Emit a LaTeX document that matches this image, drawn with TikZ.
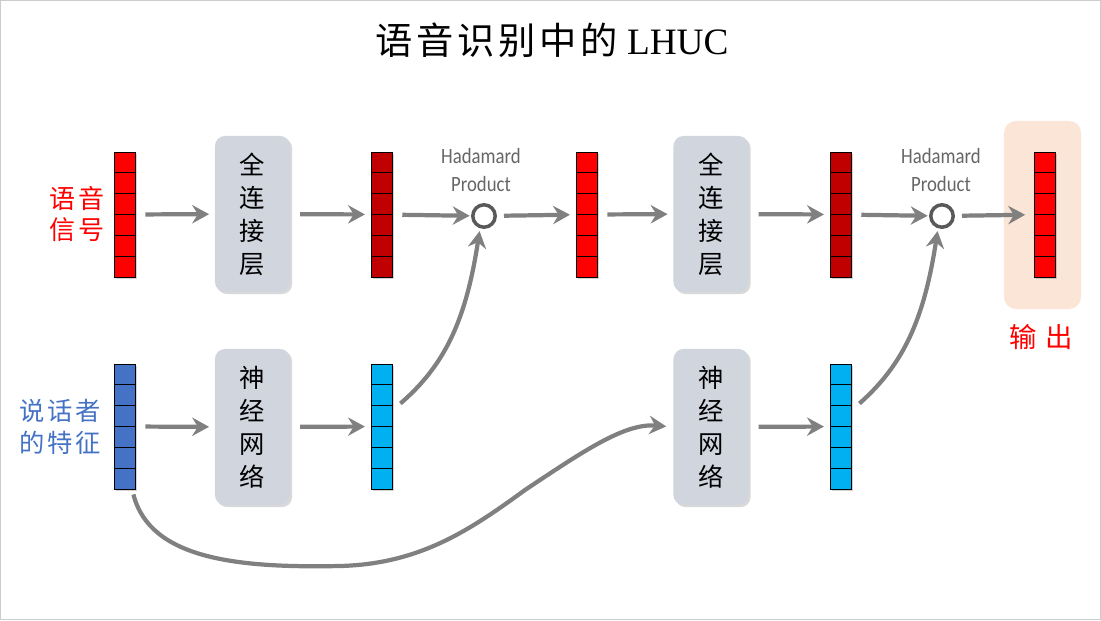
\documentclass[tikz,border=0pt]{standalone}
\usepackage{fontspec}
\setmainfont{Liberation Serif}
\newfontfamily\cjk{Noto Sans CJK SC}
\newfontfamily\cjksp[LetterSpace=10]{Noto Sans CJK SC}
\newfontfamily\labfont[FakeStretch=0.86]{Carlito}
\usepackage{xcolor}
\usepackage{tikz}
\usetikzlibrary{arrows.meta, calc, shadows}

\definecolor{vred}{HTML}{FF0000}
\definecolor{vdark}{HTML}{C00000}
\definecolor{vblue}{HTML}{4472C4}
\definecolor{vcyan}{HTML}{00B0F0}
\definecolor{boxgray}{HTML}{D0D5DE}
\definecolor{outpeach}{HTML}{FBE5D6}
\definecolor{arrowgray}{HTML}{808080}
\definecolor{ringgray}{HTML}{595959}

\begin{document}
\begin{tikzpicture}[x=0.025cm, y=-0.025cm,
                vec/.style={rectangle, draw=black, line width=0.6pt, inner sep=0pt, minimum width=0.525cm, minimum height=3.125cm,
                            drop shadow={shadow xshift=1.5pt, shadow yshift=-1.5pt, opacity=0.35},
                            path picture={\foreach \k in {1,...,5}
                                \draw[black, line width=0.6pt] ($(path picture bounding box.south west)!\k/6!(path picture bounding box.north west)$) -- ($(path picture bounding box.south east)!\k/6!(path picture bounding box.north east)$);}},
                box/.style={rectangle, rounded corners=0.25cm, fill=boxgray, minimum width=1.875cm, minimum height=3.9cm, align=center,
                            font=\cjk\fontsize{18}{23.5}\selectfont,
                            drop shadow={shadow xshift=1.5pt, shadow yshift=-1.5pt, opacity=0.3}},
                ring/.style={circle, draw=ringgray, line width=2.5pt, fill=white, minimum size=0.56cm, inner sep=0pt},
                hlab/.style={align=center, text=black!60, font=\labfont\fontsize{15.5}{19.5}\selectfont},
                flow/.style={-{Stealth[length=12pt, width=13pt, inset=4pt]}, line width=3pt, draw=arrowgray, shorten <=7pt, shorten >=4pt}
            ]
                \useasboundingbox (0,0) rectangle (1101,620);
                \draw[gray!40, line width=1pt] (0.7,0.7) rectangle (1100.3,619.3);

                % title
                \node (title) at (552,40) {\fontsize{26.5}{30}\selectfont{\cjksp 语音识别中的} LHUC};

                % upper row
                \node (siglab) [align=center, text=vred, font=\cjksp\fontsize{18.5}{22}\selectfont] at (77,214) {语音\\信号};
                \node (sig) [vec, fill=vred] at (124.5,214.5) {};
                \node (fc1) [box] at (252.5,214) {全\\连\\接\\层};
                \node (h1) [vec, fill=vdark] at (381.5,214.5) {};
                \node (had1) [ring] at (484,216) {};
                \node (had1lab) [hlab] at (481,170) {Hadamard\\Product};
                \node (s1) [vec, fill=vred] at (586.5,214.5) {};
                \node (fc2) [box] at (711,214) {全\\连\\接\\层};
                \node (h2) [vec, fill=vdark] at (840.5,214.5) {};
                \node (had2) [ring] at (942,216) {};
                \node (had2lab) [hlab] at (941,170) {Hadamard\\Product};
                \node (outbg) [rectangle, rounded corners=0.3cm, fill=outpeach, minimum width=1.925cm, minimum height=4.7cm] at (1042.5,215) {};
                \node (out) [vec, fill=vred] at (1044.5,214.5) {};
                \node (outlab) [text=vred, font=\cjk\fontsize{19.5}{22}\selectfont] at (1041,337) {输\hspace{0.3em}出};

                % lower row
                \node (spklab) [align=center, text=vblue, font=\cjksp\fontsize{18}{22.5}\selectfont] at (60,427) {说话者\\的特征};
                \node (spk) [vec, fill=vblue] at (124.5,426.5) {};
                \node (nn1) [box] at (252.5,427) {神\\经\\网\\络};
                \node (e1) [vec, fill=vcyan] at (381.5,426.5) {};
                \node (nn2) [box] at (711,427) {神\\经\\网\\络};
                \node (e2) [vec, fill=vcyan] at (840.5,426.5) {};

                \draw [flow] (sig) -- (fc1);
                \draw [flow] (fc1) -- (h1);
                \draw [flow, shorten >=1pt] (h1) -- (had1);
                \draw [flow, shorten <=5pt] (had1) -- (s1);
                \draw [flow] (s1) -- (fc2);
                \draw [flow] (fc2) -- (h2);
                \draw [flow, shorten >=1pt] (h2) -- (had2);
                \draw [flow, shorten <=5pt, shorten >=6pt] (had2) -- (out);
                \draw [flow] (spk) -- (nn1);
                \draw [flow] (nn1) -- (e1);
                \draw [flow] (nn2) -- (e2);
                \draw [flow, shorten <=0pt, shorten >=2pt] ($(e1.east)+(8,-23)$) .. controls (445,365) and (466,320) .. (had1.-108);
                \draw [flow, shorten <=0pt, shorten >=2pt] ($(e2.east)+(8,-23)$) .. controls (903,365) and (924,320) .. (had2.-108);
                \draw [flow, shorten <=0pt, shorten >=5pt] ($(spk.south east)+(-2,5)$) .. controls (150,560) and (240,568) .. (340,566)
                      .. controls (420,564) and (470,530) .. (525,490) .. controls (585,450) and (625,423) .. (nn2.west);
            \end{tikzpicture}
\end{document}
